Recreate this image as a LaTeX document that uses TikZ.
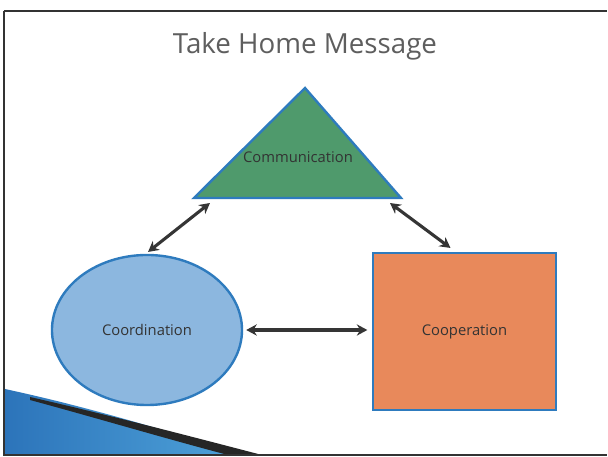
\documentclass[tikz,border=0pt]{standalone}
\usepackage{fontspec}
\setmainfont{Open Sans}
\usetikzlibrary{arrows.meta,shapes.geometric}

\definecolor{slidegray}{HTML}{5E5E5E}
\definecolor{edgeblue}{HTML}{2E7BBE}
\definecolor{triggreen}{HTML}{4F9A6C}
\definecolor{ellblue}{HTML}{8CB7DF}
\definecolor{sqorange}{HTML}{E8895B}
\definecolor{arrowgray}{HTML}{353535}
\definecolor{swooshblue}{HTML}{2C74BA}
\definecolor{swooshlight}{HTML}{4FA3DA}

\begin{document}
\begin{tikzpicture}[x=0.025cm,y=-0.025cm,
  every node/.style = {font=\fontsize{10.5}{12}\selectfont, text=black!80},
  shapebox/.style = {draw=edgeblue, line width=1.7pt, inner sep=0pt, outer sep=0pt},
  link/.style = {draw=arrowgray, line width=2.2pt,
    {Stealth[length=7.5pt,width=8pt]}-{Stealth[length=7.5pt,width=8pt]}}
]
  \useasboundingbox (0,0) rectangle (608,457);
  \fill[white] (0,0) rectangle (608,457);

  % corner swoosh
  \shade[left color=swooshblue, right color=swooshlight]
    (5,389) .. controls (60,401) and (120,416) .. (245,455) -- (5,455) -- cycle;
  \fill[black!85] (30,397) .. controls (100,413) and (170,431) .. (262,455)
    -- (228,455) .. controls (160,437) and (100,419) .. (30,400) -- cycle;

  % slide frame
  \draw[black!80, line width=1.4pt] (4,11) -- (607,11);
  \draw[black!80, line width=1pt] (4,11) -- (4,455) -- (607,455);

  \node[font=\fontsize{19.7}{22}\selectfont, text=slidegray] (title) at (305,46) {Take Home Message};

  % triangle
  \coordinate (apex) at (305,88);
  \coordinate (bl) at (194,198);
  \coordinate (br) at (401,198);
  \filldraw[fill=triggreen, draw=edgeblue, line width=1.7pt, line join=miter]
    (apex) -- (br) -- (bl) -- cycle;
  \node (comm) at (298,157) {Communication};

  \node[shapebox, ellipse, fill=ellblue, minimum width=4.75cm, minimum height=3.75cm]
    (coord) at (147,330) {Coordination};
  \node[shapebox, rectangle, fill=sqorange, minimum width=4.575cm, minimum height=3.925cm]
    (coop) at (464.5,331.5) {Cooperation};

  \draw[link] ([shift={(16,5)}]bl) -- ([shift={(1,-3)}]coord.north);
  \draw[link] ([shift={(-11,5)}]br) -- ([shift={(-14,-5)}]coop.north);
  \draw[link, shorten <=3pt, shorten >=4pt] (coord.east) -- (coord.east -| coop.west);

\end{tikzpicture}
\end{document}
